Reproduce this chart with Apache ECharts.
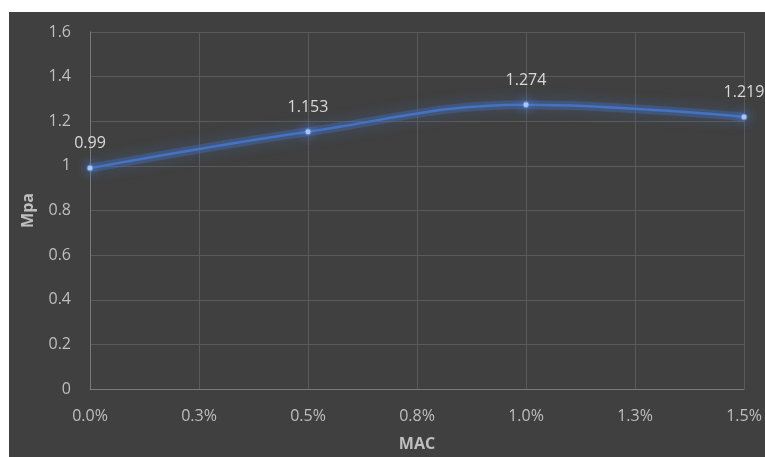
<!DOCTYPE html>
<html><head><meta charset="utf-8">
<script src="https://cdn.jsdelivr.net/npm/echarts@6/dist/echarts.min.js"></script>
<style>
html,body{margin:0;padding:0;background:#ffffff;width:765px;height:457px;overflow:hidden;}
#c{position:absolute;left:9px;top:12px;width:756px;height:445px;}
</style></head>
<body><div id="c"></div>
<script>
const macValues = [0, 0.5, 1.0, 1.5];
const mpaValues = [0.99, 1.153, 1.274, 1.219];
const xTickValues = [0, 0.25, 0.5, 0.75, 1.0, 1.25, 1.5];
const xTickLabels = ['0.0%', '0.3%', '0.5%', '0.8%', '1.0%', '1.3%', '1.5%'];
const yTickLabels = ['0', '0.2', '0.4', '0.6', '0.8', '1', '1.2', '1.4', '1.6'];

const chart = echarts.init(document.getElementById('c'));
const font = 'Open Sans, Noto Sans, sans-serif';
const pts = macValues.map((x, i) => [x, mpaValues[i]]);
chart.setOption({
  backgroundColor: '#404040',
  animation: false,
  grid: {left: 81, top: 20, right: 21, bottom: 67},
  xAxis: {
    type: 'value', min: 0, max: 1.5, interval: 0.25,
    name: 'MAC', nameLocation: 'middle', nameGap: 47,
    nameTextStyle: {color: '#bfbfbf', fontWeight: 'bold', fontSize: 16, fontFamily: font},
    axisLine: {show: true, lineStyle: {color: '#7a7a7a', width: 1}},
    axisTick: {show: false},
    axisLabel: {color: '#bfbfbf', fontSize: 16, fontFamily: font, margin: 19,
      formatter: v => { const i = xTickValues.findIndex(t => Math.abs(t - v) < 1e-9); return i >= 0 ? xTickLabels[i] : ''; }},
    splitLine: {show: true, lineStyle: {color: '#5a5a5a', width: 1}}
  },
  yAxis: {
    type: 'value', min: 0, max: 1.6, interval: 0.2,
    name: 'Mpa', nameLocation: 'middle', nameGap: 54, nameRotate: 90,
    nameTextStyle: {color: '#bfbfbf', fontWeight: 'bold', fontSize: 16, fontFamily: font},
    axisLine: {show: true, lineStyle: {color: '#7a7a7a', width: 1}},
    axisTick: {show: false},
    axisLabel: {color: '#bfbfbf', fontSize: 16, fontFamily: font, margin: 19,
      formatter: v => yTickLabels[Math.round(v / 0.2)]},
    splitLine: {show: true, lineStyle: {color: '#5a5a5a', width: 1}}
  },
  series: [{
    type: 'line', data: pts, smooth: 0.4, symbol: 'none', silent: true,
    lineStyle: {color: 'rgba(68,114,196,0.35)', width: 9, shadowColor: 'rgba(68,114,196,0.9)', shadowBlur: 14}
  }, {
    type: 'line',
    data: pts,
    smooth: 0.4,
    symbol: 'circle', symbolSize: 6,
    itemStyle: {color: '#b4c8f0', borderColor: '#5b85d6', borderWidth: 1, shadowColor: 'rgba(90,140,230,1)', shadowBlur: 12},
    lineStyle: {color: '#4472c4', width: 2.5},
    label: {show: true, position: 'top', distance: 13, color: '#d9d9d9', fontSize: 16, fontFamily: font,
      formatter: p => String(p.value[1])}
  }]
});
</script></body></html>
